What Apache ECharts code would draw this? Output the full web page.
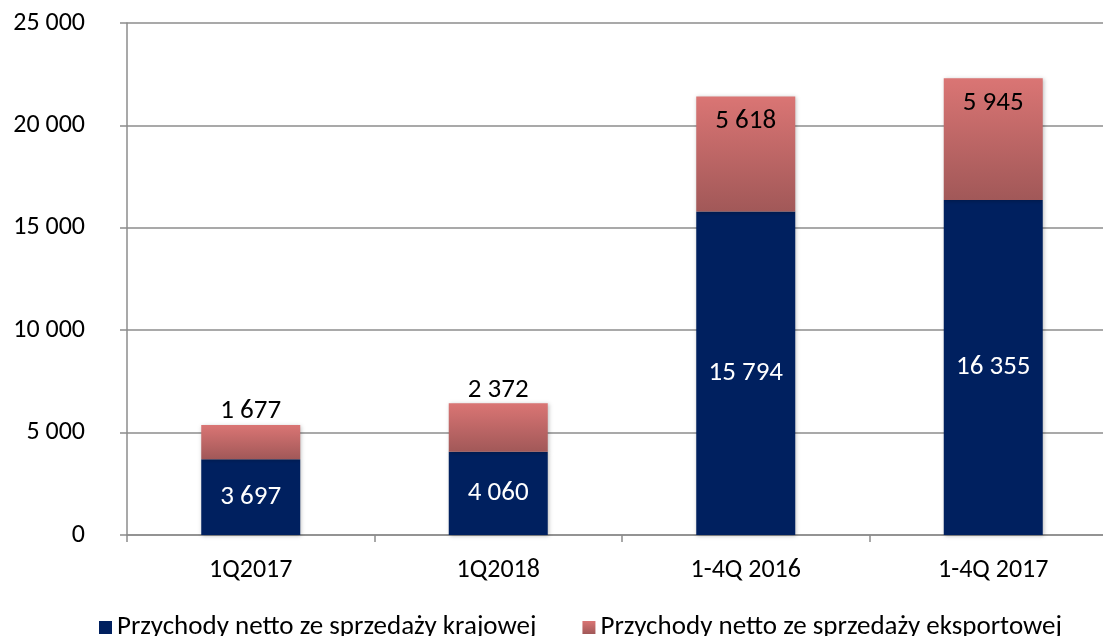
<!DOCTYPE html>
<html>
<head>
<meta charset="utf-8">
<script src="https://cdn.jsdelivr.net/npm/echarts@6/dist/echarts.min.js"></script>
<style>
  html, body { margin: 0; padding: 0; background: #fff; overflow: hidden; }
  /* plot runs past the right edge, like the original export */
  #chart { width: 1117px; height: 636px; }
</style>
</head>
<body>
<div id="chart"></div>
<script>
  var categories = ['1Q2017', '1Q2018', '1-4Q 2016', '1-4Q 2017'];
  var krajowa = [3697, 4060, 15794, 16355];
  var eksportowa = [1677, 2372, 5618, 5945];
  var yTicks = [0, 5000, 10000, 15000, 20000, 25000];

  var fontFam = 'Carlito, Calibri, "Open Sans", sans-serif';
  var fmt = function (v) {
    return String(v).replace(/\B(?=(\d{3})+(?!\d))/g, ' ');
  };

  var chart = echarts.init(document.getElementById('chart'));
  chart.setOption({
    animation: false,
    grid: { left: 127, right: 0, top: 23, bottom: 101 },
    legend: {
      bottom: -10,
      left: 94,
      itemWidth: 13,
      itemHeight: 13,
      itemGap: 46,
      icon: 'rect',
      textStyle: { fontFamily: fontFam, fontSize: 27, color: '#000' },
      data: ['Przychody netto ze sprzedaży krajowej', 'Przychody netto ze sprzedaży eksportowej']
    },
    xAxis: {
      type: 'category',
      data: categories,
      axisLine: { lineStyle: { color: '#8c8c8c', width: 1.5 } },
      axisTick: { show: true, length: 7, lineStyle: { color: '#8c8c8c', width: 1.5 } },
      axisLabel: { fontFamily: fontFam, fontSize: 26, color: '#000', margin: 22 }
    },
    yAxis: {
      type: 'value',
      min: yTicks[0],
      max: yTicks[yTicks.length - 1],
      interval: 5000,
      axisLine: { show: true, lineStyle: { color: '#8c8c8c', width: 1.5 } },
      axisTick: { show: true, length: 7, lineStyle: { color: '#8c8c8c', width: 1.5 } },
      splitLine: { lineStyle: { color: '#8c8c8c', width: 1.5 } },
      axisLabel: { fontFamily: fontFam, fontSize: 26, color: '#000', margin: 42, formatter: fmt }
    },
    series: [
      {
        name: 'Przychody netto ze sprzedaży krajowej',
        type: 'bar',
        stack: 'total',
        barWidth: '40%',
        data: krajowa,
        itemStyle: {
          color: '#00205f',
          shadowBlur: 4, shadowColor: 'rgba(0,0,0,0.25)', shadowOffsetX: 1, shadowOffsetY: 1
        },
        label: {
          show: true,
          position: 'inside',
          fontFamily: fontFam,
          fontSize: 27,
          color: '#fff',
          formatter: function (p) { return fmt(p.value); }
        }
      },
      {
        name: 'Przychody netto ze sprzedaży eksportowej',
        type: 'bar',
        stack: 'total',
        barWidth: '40%',
        data: eksportowa.map(function (v) {
          return v > 3000
            ? { value: v, label: { position: 'insideTop', distance: 11 } }
            : { value: v, label: { position: 'top', distance: 0 } };
        }),
        itemStyle: {
          color: new echarts.graphic.LinearGradient(0, 0, 0, 1, [
            { offset: 0, color: '#da7574' },
            { offset: 1, color: '#a15858' }
          ]),
          shadowBlur: 4, shadowColor: 'rgba(0,0,0,0.25)', shadowOffsetX: 1, shadowOffsetY: 1
        },
        label: {
          show: true,
          fontFamily: fontFam,
          fontSize: 27,
          color: '#000',
          formatter: function (p) { return fmt(p.value); }
        }
      }
    ]
  });
</script>
</body>
</html>
